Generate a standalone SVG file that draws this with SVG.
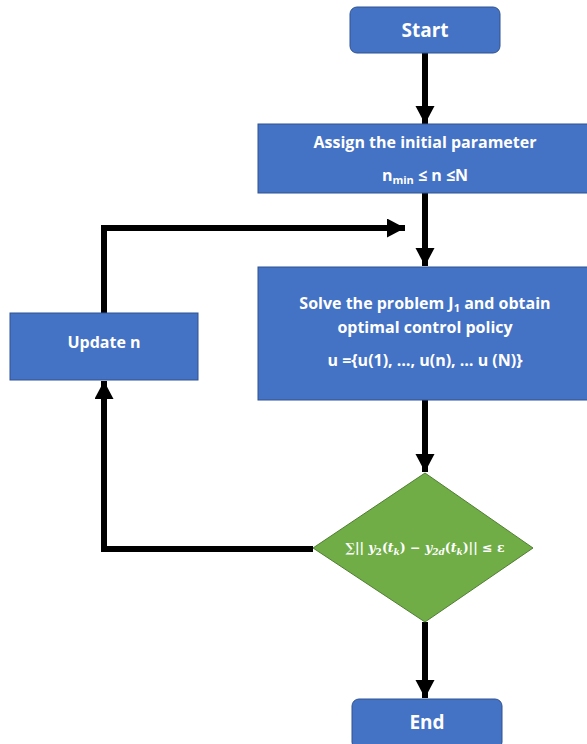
<svg xmlns="http://www.w3.org/2000/svg" width="587" height="744" viewBox="0 0 587 744">
<style>
.box{fill:#4472C4;stroke:#2F528F;stroke-width:1}
.dia{fill:#70AD47;stroke:#507E32;stroke-width:1}
.t{fill:#fff;font-family:"Open Sans","Liberation Sans",sans-serif;font-weight:bold;font-size:16px;text-anchor:middle}
.big{font-size:19px}
.m{fill:#fff;font-family:"DejaVu Serif","Liberation Serif",serif;font-weight:bold;font-size:12.5px;text-anchor:middle}
.c{fill:none;stroke:#000;stroke-width:6;marker-end:url(#ah)}
</style>
<defs>
<marker id="ah" markerUnits="userSpaceOnUse" markerWidth="20" markerHeight="20" refX="18" refY="9.5" orient="auto">
<path d="M0,0 L18,9.5 L0,19 Z" fill="#000"/>
</marker>
</defs>
<g id="connectors">
<path class="c" d="M425,53 V124"/>
<path class="c" d="M425,193 V266"/>
<path class="c" d="M104,313 V228 H405"/>
<path class="c" d="M425,400 V472"/>
<path class="c" d="M313,549 H104 V381"/>
<path class="c" d="M425,622 V698"/>
</g>
<g id="start">
<rect class="box" x="350" y="7" width="150" height="46" rx="7"/>
<text class="t big" x="425" y="37">Start</text>
</g>
<g id="assign">
<rect class="box" x="258" y="124" width="330" height="69"/>
<text class="t" x="425" y="148">Assign the initial parameter</text>
<text class="t" x="425" y="181">n<tspan font-size="11" dy="3">min</tspan><tspan dy="-3"> ≤ n ≤N</tspan></text>
</g>
<g id="solve">
<rect class="box" x="258" y="267" width="330" height="133"/>
<text class="t" x="425" y="309">Solve the problem J<tspan font-size="11" dy="3">1</tspan><tspan dy="-3"> and obtain</tspan></text>
<text class="t" x="425" y="333">optimal control policy</text>
<text class="t" x="425" y="366">u ={u(1), …, u(n), … u (N)}</text>
</g>
<g id="update">
<rect class="box" x="10" y="313" width="188" height="67"/>
<text class="t" x="104" y="348">Update n</text>
</g>
<g id="decision">
<polygon class="dia" points="425,473 533,548 425,622 313,548"/>
<text class="m" x="425" y="552">∑|| <tspan font-style="italic">y</tspan><tspan font-size="9" dy="3">2</tspan><tspan dy="-3">(</tspan><tspan font-style="italic">t</tspan><tspan font-style="italic" font-size="9" dy="3">k</tspan><tspan dy="-3">) − </tspan><tspan font-style="italic">y</tspan><tspan font-size="9" font-style="italic" dy="3">2d</tspan><tspan dy="-3">(</tspan><tspan font-style="italic">t</tspan><tspan font-style="italic" font-size="9" dy="3">k</tspan><tspan dy="-3">)|| ≤  ε</tspan></text>
</g>
<g id="end">
<rect class="box" x="352" y="699" width="150" height="50" rx="7"/>
<text class="t big" x="427" y="729">End</text>
</g>
</svg>
